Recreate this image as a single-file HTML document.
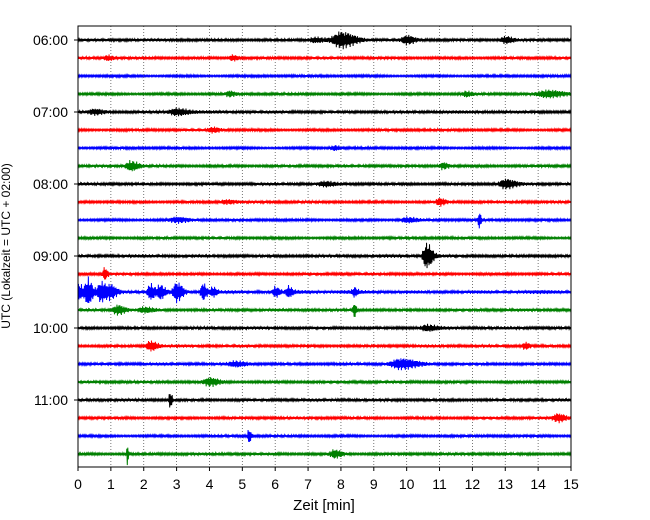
<!DOCTYPE html>
<html><head><meta charset="utf-8">
<style>
body{margin:0;background:#fff;}
svg{display:block;font-family:"Liberation Sans","DejaVu Sans",sans-serif;}
</style></head>
<body>
<svg id="chart" width="650" height="520" viewBox="0 0 650 520">
<g id="grid"></g>
<g id="traces"></g>
<rect x="78" y="26" width="493" height="441" fill="none" stroke="#000" stroke-width="1"/>
<g id="xaxis"></g>
<g id="yaxis"></g>
<text x="324" y="510" font-size="15" text-anchor="middle">Zeit  [min]</text>
<text transform="translate(10,246) rotate(-90)" font-size="12" text-anchor="middle">UTC (Lokalzeit = UTC + 02:00)</text>
</svg>
<script>
const xTicks=[0,1,2,3,4,5,6,7,8,9,10,11,12,13,14,15];
const hourLabels=["06:00","07:00","08:00","09:00","10:00","11:00"];
const colors=["#000000","#ff0000","#0000ff","#008000"];
const traceCount=24;
const baseNoise=[1.6,1.5,1.3,1.4,1.7,1.4,1.3,1.5,1.6,1.5,1.4,1.4,1.7,1.5,2.0,1.6,1.6,1.6,1.6,1.5,1.6,1.5,1.4,1.5];
// events: [trace, minute, amplitude(trace units), half-width(min)]
const eventTrace=[0,0,0,0,1,1,3,3,3,4,4,5,6,7,7,8,8,9,9,10,10,10,12,13,14,14,14,14,14,14,14,14,14,14,14,14,15,15,15,16,17,17,18,18,19,20,21,22,23,23];
const eventTime=[8.0,10.0,13.0,7.2,4.7,0.9,4.6,11.8,14.3,3.0,0.5,4.1,7.8,1.6,11.1,13.0,7.5,11.0,4.5,3.0,10.0,12.2,10.6,0.8,0.0,0.3,0.7,1.0,2.2,2.5,3.0,3.8,4.1,6.0,6.4,8.4,1.2,8.4,2.0,10.6,2.2,13.6,9.8,4.8,4.0,2.8,14.6,5.2,1.5,7.8];
const eventAmp=[8,4,3.5,2.5,3,2.5,2.5,2.5,3.5,3.5,2.5,2.5,2.5,5,3.5,4.5,2,3.5,2,2.5,2.5,8,13,6,8,13,10,6,8,7,10,9,5,5,5,4,5,8,2.5,3,5,3.5,5,2.5,4,9,4,8,11,4];
const eventWidth=[0.35,0.2,0.2,0.25,0.15,0.15,0.15,0.15,0.45,0.3,0.25,0.2,0.15,0.2,0.15,0.25,0.25,0.15,0.25,0.3,0.25,0.05,0.15,0.08,0.15,0.12,0.15,0.15,0.12,0.12,0.15,0.1,0.1,0.1,0.1,0.08,0.2,0.05,0.25,0.25,0.18,0.12,0.4,0.3,0.25,0.05,0.2,0.05,0.03,0.2];

const x0=78,x1=571,tMax=15;
const yFirst=40,ySpacing=18;
const xs=t=>x0+(t/tMax)*(x1-x0);
const ys=i=>yFirst+i*ySpacing;
const NS="http://www.w3.org/2000/svg";
const grid=document.getElementById('grid');
const xa=document.getElementById('xaxis');
const ya=document.getElementById('yaxis');
xTicks.forEach(t=>{
  const x=xs(t);
  if(t>0&&t<tMax){
    const g=document.createElementNS(NS,'line');
    g.setAttribute('x1',x);g.setAttribute('x2',x);g.setAttribute('y1',26);g.setAttribute('y2',467);
    g.setAttribute('stroke','#555');g.setAttribute('stroke-width','0.8');g.setAttribute('stroke-dasharray','1,2');
    
    
    grid.appendChild(g);
  }
  const tk=document.createElementNS(NS,'line');
  tk.setAttribute('x1',x);tk.setAttribute('x2',x);tk.setAttribute('y1',467);tk.setAttribute('y2',471);
  tk.setAttribute('stroke','#000');
  
  
  xa.appendChild(tk);
  const lb=document.createElementNS(NS,'text');
  lb.setAttribute('x',x);lb.setAttribute('y',489);lb.setAttribute('font-size','14');lb.setAttribute('text-anchor','middle');
  lb.textContent=t;
  
  
  xa.appendChild(lb);
});
hourLabels.forEach((h,k)=>{
  const y=ys(k*4);
  const tk=document.createElementNS(NS,'line');
  tk.setAttribute('x1',74);tk.setAttribute('x2',78);tk.setAttribute('y1',y);tk.setAttribute('y2',y);
  tk.setAttribute('stroke','#000');
  
  
  ya.appendChild(tk);
  const lb=document.createElementNS(NS,'text');
  lb.setAttribute('x',68);lb.setAttribute('y',y+5);lb.setAttribute('font-size','14');lb.setAttribute('text-anchor','end');
  lb.textContent=h;
  
  
  ya.appendChild(lb);
});
const tr=document.getElementById('traces');
for(let i=0;i<traceCount;i++){
  const pts=[];
  const n=1000;
  for(let s=0;s<=n;s++){
    const t=s/n*tMax;
    let env=baseNoise[i]*(0.85+0.15*Math.sin(s*0.05+i*1.7)+0.1*Math.sin(s*0.013+i));
    for(let e=0;e<eventTrace.length;e++){
      if(eventTrace[e]!==i)continue;
      const d=(t-eventTime[e])/eventWidth[e];
      if(Math.abs(d)<4) env+=eventAmp[e]*Math.exp(-d*d*(d>0?0.5:2));
    }
    const osc=Math.sin(s*2.7+i)*0.6+Math.sin(s*1.37+i*3)*0.4;
    const sign=(s%2===0)?1:-1;
    pts.push(xs(t).toFixed(2)+','+(ys(i)+sign*env*(0.45+0.55*Math.abs(osc))).toFixed(2));
  }
  const pl=document.createElementNS(NS,'polyline');
  pl.setAttribute('points',pts.join(' '));
  pl.setAttribute('fill','none');
  pl.setAttribute('stroke',colors[i%4]);
  pl.setAttribute('stroke-width','1');
  
  
  tr.appendChild(pl);
}
</script>
</body></html>
